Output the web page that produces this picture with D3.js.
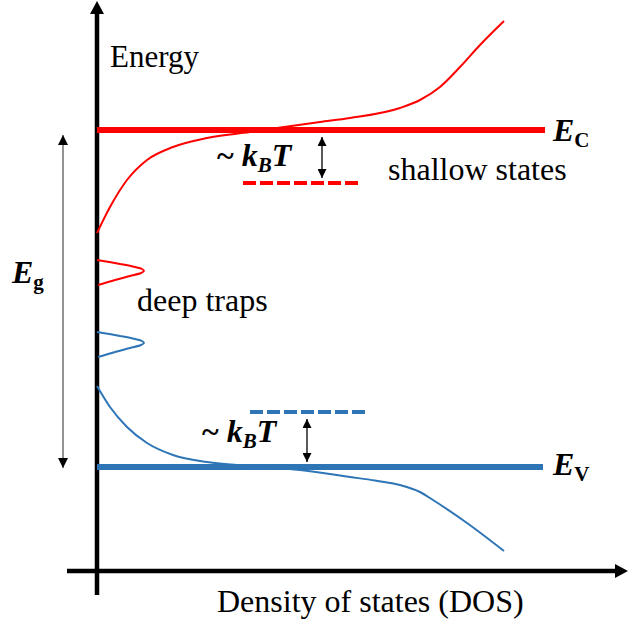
<!DOCTYPE html>
<html>
<head>
<meta charset="utf-8">
<script src="https://cdn.jsdelivr.net/npm/d3@7"></script>
</head>
<body style="margin:0">
<script>
// ---- data (DOS on x, energy on y, arbitrary units) ----
const conductionDOS = [[0,67.6],[2.6,72.8],[6,78.2],[10,82.2],[15.2,84.8],[22,86.6],[30.6,87.8],[36,88.6],[44.6,89.8],[50.6,90.6],[60.6,92.6],[64.6,94.2],[68.6,96.8],[72.6,100.8],[76.6,105.2],[81.4,110]];
const valenceDOS = [[0,37],[2.6,32.8],[6,28.8],[10,25.6],[15.2,23.2],[22,21.8],[30.6,21],[40.6,20.2],[50.6,18.8],[55.6,18.1],[60.6,17.2],[64.6,15.8],[67.2,14.2],[74,9.6],[81.4,4]];
const deepTrapRed = [[0,62.2],[4.6,61.4],[7.6,60.8],[9,60.4],[9.4,60],[8.8,59.6],[6.6,59],[3.6,58.2],[0.2,57.2]];
const deepTrapBlue = [[0,47.8],[4.6,47],[7.6,46.4],[9,46],[9.4,45.6],[8.8,45.2],[6.6,44.6],[3.6,43.8],[0.2,42.8]];
const levelNames = ["EC", "EV"];
const levelEnergy = [88.2, 20.8];
const levelExtent = [89.6, 89.2];
const shallowEnergy = [77.6, 31.8];
const shallowRange = [[29.2, 52.6], [30.6, 54]];
const kTArrowX = [45, 42];
const labels = ["Energy", "Density of states (DOS)", "shallow states", "deep traps"];

const W = 629, H = 630;
const RED = "#ff0000", BLUE = "#2e75b6";
const FONT = "Liberation Serif";

const x = d3.scaleLinear().domain([0, 106]).range([97, 627]);
const y = d3.scaleLinear().domain([0, 114]).range([571, 1]);

const svg = d3.select("body").append("svg").attr("width", W).attr("height", H)
  .style("display", "block");
const defs = svg.append("defs");
function marker(id, color, w, l) {
  defs.append("marker").attr("id", id).attr("viewBox", "0 0 10 10")
    .attr("refX", 10).attr("refY", 5).attr("markerUnits", "userSpaceOnUse")
    .attr("markerWidth", l).attr("markerHeight", w).attr("orient", "auto-start-reverse")
    .append("path").attr("d", "M0,0L10,5L0,10Z").attr("fill", color);
}
marker("ah", "#000", 9, 10);
marker("ahg", "#000", 10, 11);

// axes
const yAxisX = x(0), xAxisY = y(0);
svg.append("line").attr("x1", yAxisX).attr("x2", yAxisX).attr("y1", 595).attr("y2", 12)
  .attr("stroke", "#000").attr("stroke-width", 4.5);
svg.append("path").attr("d", `M${yAxisX},1L${yAxisX-7},14L${yAxisX+7},14Z`).attr("fill", "#000");
svg.append("line").attr("x1", 67).attr("x2", 616).attr("y1", xAxisY).attr("y2", xAxisY)
  .attr("stroke", "#000").attr("stroke-width", 4.5);
svg.append("path").attr("d", `M628,${xAxisY}L615,${xAxisY-7}L615,${xAxisY+7}Z`).attr("fill", "#000");

// band levels
const levelColors = [RED, BLUE];
levelEnergy.forEach((e, i) => {
  svg.append("line").attr("x1", x(0)).attr("x2", x(levelExtent[i]))
    .attr("y1", y(e)).attr("y2", y(e))
    .attr("stroke", levelColors[i]).attr("stroke-width", 6);
});

// shallow states (dashed)
shallowEnergy.forEach((e, i) => {
  svg.append("line").attr("x1", x(shallowRange[i][0])).attr("x2", x(shallowRange[i][1]))
    .attr("y1", y(e)).attr("y2", y(e))
    .attr("stroke", levelColors[i]).attr("stroke-width", 4)
    .attr("stroke-dasharray", "13,4");
});

// DOS curves
const bandLine = d3.line().x(d => x(d[0])).y(d => y(d[1])).curve(d3.curveMonotoneX);
const trapLine = d3.line().x(d => x(d[0])).y(d => y(d[1])).curve(d3.curveCatmullRom.alpha(0.5));
[[bandLine, conductionDOS, RED], [bandLine, valenceDOS, BLUE], [trapLine, deepTrapRed, RED], [trapLine, deepTrapBlue, BLUE]].forEach(([gen, d, c]) => {
  svg.append("path").attr("d", gen(d)).attr("fill", "none").attr("stroke", c).attr("stroke-width", 2);
});

// kT double arrows
[[levelEnergy[0], shallowEnergy[0]], [shallowEnergy[1], levelEnergy[1]]].forEach(([top, bot], i) => {
  svg.append("line").attr("x1", x(kTArrowX[i])).attr("x2", x(kTArrowX[i]))
    .attr("y1", y(top) + 7).attr("y2", y(bot) - 5)
    .attr("stroke", "#000").attr("stroke-width", 1.3)
    .attr("marker-start", "url(#ah)").attr("marker-end", "url(#ah)");
});

// Eg arrow (grey shaft)
svg.append("line").attr("x1", 63).attr("x2", 63).attr("y1", y(levelEnergy[0]) + 5).attr("y2", y(levelEnergy[1]) + 1)
  .attr("stroke", "#888").attr("stroke-width", 1.8)
  .attr("marker-start", "url(#ahg)").attr("marker-end", "url(#ahg)");

// texts
function txt(xp, yp, size, s) {
  return svg.append("text").attr("x", xp).attr("y", yp).attr("font-family", FONT)
    .style("font-family", "'Liberation Serif', serif")
    .attr("font-size", size).text(s);
}
txt(110, 67, 31, labels[0]);
txt(217, 612, 32, labels[1]);
txt(388, 180, 32, labels[2]);
txt(137, 311, 32, labels[3]);

function subLabel(xp, yp, main, sub) {
  const t = svg.append("text").attr("x", xp).attr("y", yp).attr("font-family", FONT)
    .style("font-family", "'Liberation Serif', serif").attr("font-weight", "bold");
  t.append("tspan").attr("font-style", "italic").attr("font-size", 32).text(main);
  t.append("tspan").attr("font-size", 21).attr("dy", 6).text(sub);
}
subLabel(553, 141, "E", "C");
subLabel(553, 475, "E", "V");
subLabel(12, 283, "E", "g");

function kT(xp, yp) {
  const t = svg.append("text").attr("x", xp).attr("y", yp).attr("font-family", FONT)
    .style("font-family", "'Liberation Serif', serif")
    .attr("font-weight", "bold").attr("font-size", 32);
  t.append("tspan").text("~ ");
  t.append("tspan").attr("font-style", "italic").text("k");
  t.append("tspan").attr("font-style", "italic").attr("font-size", 21).attr("dy", 6).text("B");
  t.append("tspan").attr("font-style", "italic").attr("dy", -6).text("T");
}
kT(217, 166);
kT(202, 442);
</script>
</body>
</html>
